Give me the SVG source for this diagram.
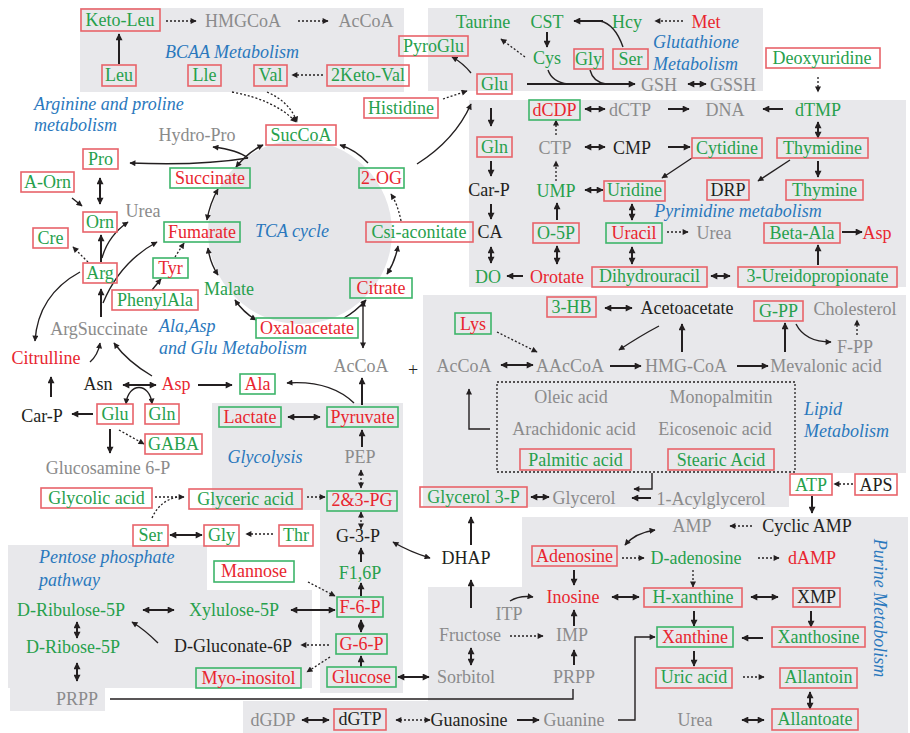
<svg xmlns="http://www.w3.org/2000/svg" width="910" height="733" viewBox="0 0 910 733">
<defs>
<marker id="ah" viewBox="0 0 10 10" refX="9" refY="5" markerWidth="8" markerHeight="7" markerUnits="userSpaceOnUse" orient="auto-start-reverse"><path d="M0,0 L10,5 L0,10 z" fill="#231f20"/></marker>
<marker id="ah2" viewBox="0 0 10 10" refX="9" refY="5" markerWidth="7" markerHeight="6" markerUnits="userSpaceOnUse" orient="auto-start-reverse"><path d="M0,0 L10,5 L0,10 z" fill="#231f20"/></marker>
<style>
text{font-family:"Liberation Serif","Times New Roman",serif;font-size:18px;text-anchor:middle}
.g{fill:#27a04c}.r{fill:#e8262f}.k{fill:#231f20}.y{fill:#8b8b8b}
.b{fill:#2a78bd;font-style:italic;text-anchor:start}.bc{text-anchor:middle}
.br{fill:none;stroke:#e8636a;stroke-width:1.6}.bg{fill:none;stroke:#3db56a;stroke-width:1.6}
.pn{fill:#e8e8eb}
.s,.sd,.t,.td,.d,.dd,.n,.nd{fill:none;stroke:#231f20}
.s{stroke-width:2;marker-end:url(#ah)}
.sd{stroke-width:2;marker-start:url(#ah);marker-end:url(#ah)}
.t{stroke-width:1.4;marker-end:url(#ah2)}
.td{stroke-width:1.4;marker-start:url(#ah2);marker-end:url(#ah2)}
.d{stroke-width:1.3;stroke-dasharray:2 2;marker-end:url(#ah2)}
.dd{stroke-width:1.3;stroke-dasharray:2 2;marker-start:url(#ah2);marker-end:url(#ah2)}
.n{stroke-width:1.4}
.nd{stroke-width:1.3;stroke-dasharray:2 2}
</style>
</defs>
<rect width="910" height="733" fill="#fff"/>
<g id="panels">
<rect class="pn" x="80" y="8" width="324" height="84"/>
<rect class="pn" x="428" y="8" width="335" height="83"/>
<rect class="pn" x="469" y="100" width="437" height="187"/>
<polygon class="pn" points="423,295 906,295 906,473 789,473 789,507 423,507"/>
<polygon class="pn" points="212,403 403,403 403,693 320,693 320,510 212,510"/>
<polygon class="pn" points="8,545 207,545 207,590 312,590 312,688 105,688 105,711 10,711 10,688 8,688"/>
<polygon class="pn" points="522,517 908,517 908,733 243,733 243,701 428,701 428,587 522,587"/>
<circle cx="300" cy="232" r="92" fill="#e6e6e9"/>
</g>
<g id="labels">
<text class="b bc" x="232" y="58">BCAA Metabolism</text>
<text class="b" x="34" y="110">Arginine and proline</text>
<text class="b" x="34" y="131">metabolism</text>
<text class="b bc" x="292" y="237">TCA cycle</text>
<text class="b" x="653" y="48">Glutathione</text>
<text class="b" x="653" y="70">Metabolism</text>
<text class="b bc" x="738" y="217">Pyrimidine metabolism</text>
<text class="b" x="159" y="332">Ala,Asp</text>
<text class="b" x="159" y="354">and Glu Metabolism</text>
<text class="b" x="804" y="415">Lipid</text>
<text class="b" x="804" y="437">Metabolism</text>
<text class="b bc" x="265" y="463">Glycolysis</text>
<text class="b" x="39" y="563">Pentose phosphate</text>
<text class="b" x="39" y="586">pathway</text>
<text class="b bc" transform="translate(874,608) rotate(90)">Purine Metabolism</text>
</g>
<g id="connectors">
<path class="s" d="M119 64V34"/>
<path class="d" d="M166 21H196"/>
<path class="d" d="M298 21H328"/>
<path class="d" d="M323 75H292"/>
<path class="d" d="M232 92Q275 100 296 122"/>
<path class="d" d="M267 92Q290 102 297 122"/>
<path class="td" d="M236 167Q248 152 263 145"/>
<path class="t" d="M248 158Q238 150 213 147"/>
<path class="t" d="M248 158Q200 166 130 163"/>
<path class="sd" d="M100 178V204"/>
<path class="t" d="M72 198L82 206"/>
<path class="s" d="M101 262V235"/>
<path class="t" d="M102 258Q108 236 128 222"/>
<path class="d" d="M88 262L73 247"/>
<path class="t" d="M80 272Q38 295 35 341"/>
<path class="s" d="M101 317V289"/>
<path class="t" d="M103 303Q120 262 157 242"/>
<path class="t" d="M90 362Q98 355 100 343"/>
<path class="t" d="M152 376Q128 362 114 343"/>
<path class="sd" d="M123 385H156"/>
<path class="s" d="M198 385H232"/>
<path class="t" d="M354 403Q330 380 287 383"/>
<path class="s" d="M51 397V377"/>
<path class="s" d="M93 414H72"/>
<path class="td" d="M126 404C128 382 150 382 152 404"/>
<path class="s" d="M110 429V453"/>
<path class="d" d="M119 430L144 444"/>
<path class="sd" d="M288 417H320"/>
<path class="s" d="M362 405V378"/>
<path class="s" d="M362 447V430"/>
<path class="dd" d="M361 470V488"/>
<path class="d" d="M307 497H325"/>
<path class="d" d="M155 497H184"/>
<path class="nd" d="M152 518Q160 500 178 497"/>
<path class="sd" d="M170 535H202"/>
<path class="d" d="M273 534H246"/>
<path class="dd" d="M361 512V529"/>
<path class="s" d="M361 562V548"/>
<path class="s" d="M361 596V583"/>
<path class="sd" d="M361 620V632"/>
<path class="s" d="M361 667V656"/>
<path class="d" d="M308 582L335 596"/>
<path class="sd" d="M291 610H335"/>
<path class="sd" d="M143 610H174"/>
<path class="sd" d="M77 622V638"/>
<path class="sd" d="M77 663V681"/>
<path class="t" d="M158 643Q145 630 132 622"/>
<path class="d" d="M329 645H301"/>
<path class="d" d="M330 657L307 672"/>
<path class="td" d="M393 542Q410 552 430 558"/>
<path class="s" d="M471 545V517"/>
<path class="s" d="M471 608V580"/>
<path class="sd" d="M398 677H429"/>
<path class="sd" d="M471 648V665"/>
<path class="d" d="M510 636H543"/>
<path class="t" d="M510 601Q520 595 533 597"/>
<path class="s" d="M574 626V610"/>
<path class="s" d="M574 665V650"/>
<path class="n" d="M110 699H573V689"/>
<path class="s" d="M574 570V585"/>
<path class="td" d="M625 545Q635 533 655 530"/>
<path class="d" d="M752 526H730"/>
<path class="s" d="M812 496V513"/>
<path class="d" d="M853 484H834"/>
<path class="d" d="M622 558H644"/>
<path class="d" d="M758 558H779"/>
<path class="d" d="M693 570V587"/>
<path class="sd" d="M612 597H639"/>
<path class="sd" d="M751 597H778"/>
<path class="s" d="M811 611V627"/>
<path class="s" d="M763 638H742"/>
<path class="s" d="M694 611V626"/>
<path class="s" d="M694 651V666"/>
<path class="d" d="M743 677H764"/>
<path class="sd" d="M810 692V709"/>
<path class="sd" d="M742 720H764"/>
<path class="t" d="M618 720H635V637H655"/>
<path class="sd" d="M302 720H329"/>
<path class="dd" d="M396 720H430"/>
<path class="s" d="M517 720H539"/>
<path class="sd" d="M531 497H549"/>
<path class="s" d="M651 498H632"/>
<path class="t" d="M652 473V489H634"/>
<path class="sd" d="M605 308H632"/>
<path class="d" d="M497 332L537 352"/>
<path class="sd" d="M501 365H533"/>
<path class="s" d="M610 366H641"/>
<path class="t" d="M659 326Q640 336 619 350"/>
<path class="s" d="M682 352V324"/>
<path class="s" d="M737 366H768"/>
<path class="s" d="M785 352V323"/>
<path class="t" d="M796 324Q805 342 831 342"/>
<path class="d" d="M857 335V320"/>
<rect class="nd" x="497" y="382" width="298" height="90"/>
<path class="t" d="M490 429H469V389"/>
<path class="t" d="M344 318Q355 312 366 300"/>
<path class="td" d="M363 301V348"/>
<path class="td" d="M387 274Q395 262 398 246"/>
<path class="d" d="M401 221Q398 205 391 194"/>
<path class="t" d="M368 163Q356 150 340 145"/>
<path class="t" d="M417 164Q455 140 471 104"/>
<path class="td" d="M207 220Q210 203 218 189"/>
<path class="td" d="M208 248Q210 263 218 275"/>
<path class="td" d="M235 300Q243 312 256 320"/>
<path class="d" d="M175 257L184 243"/>
<path class="t" d="M152 290L161 279"/>
<path class="d" d="M443 99L467 91"/>
<path class="t" d="M471 73Q463 63 452 57"/>
<path class="s" d="M491 108V126"/>
<path class="s" d="M491 161V176"/>
<path class="s" d="M491 204V219"/>
<path class="sd" d="M491 247V263"/>
<path class="s" d="M523 276H507"/>
<path class="sd" d="M557 246V264"/>
<path class="s" d="M557 220V203"/>
<path class="d" d="M556 181V161"/>
<path class="d" d="M556 135V120"/>
<path class="sd" d="M585 109H605"/>
<path class="s" d="M668 109H689"/>
<path class="s" d="M783 109H763"/>
<path class="d" d="M818 77V92"/>
<path class="sd" d="M818 122V138"/>
<path class="s" d="M818 161V177"/>
<path class="t" d="M790 160L758 181"/>
<path class="sd" d="M585 147H605"/>
<path class="s" d="M668 147H690"/>
<path class="t" d="M692 158L662 178"/>
<path class="sd" d="M585 190H603"/>
<path class="sd" d="M632 204V220"/>
<path class="d" d="M667 232H688"/>
<path class="sd" d="M632 247V264"/>
<path class="sd" d="M711 276H730"/>
<path class="s" d="M818 265V245"/>
<path class="s" d="M842 232H862"/>
<path class="s" d="M547 32V47"/>
<path class="n" d="M623 47Q615 24 600 21"/>
<path class="s" d="M603 21H574"/>
<path class="d" d="M683 21H655"/>
<path class="d" d="M525 57L501 39"/>
<path class="s" d="M527 84H635"/>
<path class="n" d="M548 70Q552 82 568 84"/>
<path class="n" d="M590 70Q593 82 606 84"/>
<path class="sd" d="M688 84H706"/>
</g>
<g id="n-ketoleu"><rect class="br" x="81" y="9" width="79" height="22"/><text class="g" x="120" y="26">Keto-Leu</text></g>
<g id="n-hmgcoa"><text class="y" x="243" y="27">HMGCoA</text></g>
<g id="n-accoa1"><text class="y" x="366" y="27">AcCoA</text></g>
<g id="n-leu"><rect class="br" x="102" y="65" width="34" height="21"/><text class="g" x="119" y="81">Leu</text></g>
<g id="n-lle"><rect class="br" x="188" y="65" width="33" height="21"/><text class="g" x="204.5" y="81">Lle</text></g>
<g id="n-val"><rect class="br" x="254" y="65" width="33" height="21"/><text class="g" x="270.5" y="81">Val</text></g>
<g id="n-ketoval"><rect class="br" x="327" y="65" width="82" height="21"/><text class="g" x="368" y="81">2Keto-Val</text></g>
<g id="n-hydropro"><text class="y" x="197" y="141">Hydro-Pro</text></g>
<g id="n-succoa"><rect class="br" x="266" y="125" width="70" height="20"/><text class="g" x="301" y="141">SucCoA</text></g>
<g id="n-pro"><rect class="br" x="83" y="149" width="35" height="20"/><text class="g" x="100.5" y="165">Pro</text></g>
<g id="n-aorn"><rect class="br" x="21" y="172" width="53" height="20"/><text class="g" x="47.5" y="188">A-Orn</text></g>
<g id="n-orn"><rect class="br" x="83" y="212" width="34" height="20"/><text class="g" x="100" y="228">Orn</text></g>
<g id="n-urea1"><text class="y" x="143" y="217">Urea</text></g>
<g id="n-succinate"><rect class="bg" x="170" y="168" width="80" height="20"/><text class="r" x="210" y="184">Succinate</text></g>
<g id="n-fumarate"><rect class="bg" x="164" y="222" width="76" height="20"/><text class="r" x="202" y="238">Fumarate</text></g>
<g id="n-cre"><rect class="br" x="33" y="228" width="35" height="20"/><text class="g" x="50.5" y="244">Cre</text></g>
<g id="n-arg"><rect class="br" x="83" y="263" width="34" height="20"/><text class="g" x="100" y="279">Arg</text></g>
<g id="n-tyr"><rect class="bg" x="153" y="258" width="35" height="20"/><text class="r" x="170.5" y="274">Tyr</text></g>
<g id="n-phenylala"><rect class="br" x="112" y="290" width="86" height="20"/><text class="g" x="155" y="306">PhenylAla</text></g>
<g id="n-malate"><text class="g" x="229" y="295">Malate</text></g>
<g id="n-oxaloacetate"><rect class="bg" x="256" y="318" width="102" height="20"/><text class="r" x="307" y="334">Oxaloacetate</text></g>
<g id="n-citrate"><rect class="bg" x="350" y="278" width="62" height="20"/><text class="r" x="381" y="294">Citrate</text></g>
<g id="n-csiaconitate"><rect class="br" x="366" y="222" width="107" height="20"/><text class="g" x="419" y="238">Csi-aconitate</text></g>
<g id="n-2og"><rect class="bg" x="359" y="168" width="45" height="20"/><text class="r" x="381.5" y="184">2-OG</text></g>
<g id="n-histidine"><rect class="br" x="364" y="98" width="74" height="20"/><text class="g" x="401" y="114">Histidine</text></g>
<g id="n-pyroglu"><rect class="br" x="399" y="36" width="69" height="20"/><text class="g" x="433.5" y="52">PyroGlu</text></g>
<g id="n-glu1"><rect class="br" x="477" y="74" width="35" height="20"/><text class="g" x="494.5" y="90">Glu</text></g>
<g id="n-taurine"><text class="g" x="483" y="28">Taurine</text></g>
<g id="n-cst"><text class="g" x="547" y="28">CST</text></g>
<g id="n-cys"><text class="g" x="547" y="64">Cys</text></g>
<g id="n-gly1"><rect class="br" x="574" y="49" width="29" height="20"/><text class="g" x="588.5" y="65">Gly</text></g>
<g id="n-ser1"><rect class="br" x="613" y="49" width="35" height="20"/><text class="g" x="630.5" y="65">Ser</text></g>
<g id="n-hcy"><text class="g" x="627" y="28">Hcy</text></g>
<g id="n-met"><text class="r" x="706" y="28">Met</text></g>
<g id="n-gsh"><text class="y" x="659" y="91">GSH</text></g>
<g id="n-gssh"><text class="y" x="733" y="91">GSSH</text></g>
<g id="n-dcdp"><rect class="bg" x="529" y="100" width="51" height="20"/><text class="r" x="554.5" y="116">dCDP</text></g>
<g id="n-dctp"><text class="y" x="630" y="116">dCTP</text></g>
<g id="n-dna"><text class="y" x="725" y="116">DNA</text></g>
<g id="n-dtmp"><text class="g" x="818" y="116">dTMP</text></g>
<g id="n-deoxyuridine"><rect class="br" x="766" y="48" width="114" height="20"/><text class="g" x="822" y="64">Deoxyuridine</text></g>
<g id="n-ctp"><text class="y" x="555" y="154">CTP</text></g>
<g id="n-cmp"><text class="k" x="632" y="154">CMP</text></g>
<g id="n-cytidine"><rect class="br" x="692" y="138" width="70" height="20"/><text class="g" x="727" y="154">Cytidine</text></g>
<g id="n-thymidine"><rect class="br" x="777" y="138" width="91" height="20"/><text class="g" x="822.5" y="154">Thymidine</text></g>
<g id="n-ump"><text class="g" x="556" y="197">UMP</text></g>
<g id="n-uridine"><rect class="br" x="604" y="181" width="61" height="20"/><text class="g" x="634.5" y="196">Uridine</text></g>
<g id="n-drp"><rect class="br" x="707" y="180" width="42" height="20"/><text class="k" x="728" y="196">DRP</text></g>
<g id="n-thymine"><rect class="br" x="786" y="180" width="77" height="20"/><text class="g" x="824.5" y="196">Thymine</text></g>
<g id="n-gln1"><rect class="br" x="477" y="137" width="35" height="20"/><text class="g" x="494.5" y="153">Gln</text></g>
<g id="n-carp1"><text class="k" x="489" y="196">Car-P</text></g>
<g id="n-ca"><text class="k" x="490" y="238">CA</text></g>
<g id="n-o5p"><rect class="br" x="533" y="223" width="46" height="20"/><text class="g" x="556" y="239">O-5P</text></g>
<g id="n-uracil"><rect class="bg" x="606" y="223" width="56" height="20"/><text class="r" x="634" y="239">Uracil</text></g>
<g id="n-urea2"><text class="y" x="714" y="239">Urea</text></g>
<g id="n-betaala"><rect class="br" x="764" y="223" width="76" height="20"/><text class="g" x="802" y="239">Beta-Ala</text></g>
<g id="n-asp2"><text class="r" x="877" y="239">Asp</text></g>
<g id="n-do"><text class="g" x="488" y="283">DO</text></g>
<g id="n-orotate"><text class="r" x="557" y="283">Orotate</text></g>
<g id="n-dihydrouracil"><rect class="br" x="592" y="267" width="115" height="20"/><text class="g" x="649.5" y="282">Dihydrouracil</text></g>
<g id="n-ureido"><rect class="br" x="738" y="267" width="159" height="20"/><text class="g" x="817.5" y="282">3-Ureidopropionate</text></g>
<g id="n-3hb"><rect class="br" x="547" y="297" width="49" height="20"/><text class="g" x="571.5" y="313">3-HB</text></g>
<g id="n-acetoacetate"><text class="k" x="687" y="314">Acetoacetate</text></g>
<g id="n-gpp"><rect class="br" x="754" y="301" width="49" height="20"/><text class="g" x="778.5" y="317">G-PP</text></g>
<g id="n-cholesterol"><text class="y" x="855" y="315">Cholesterol</text></g>
<g id="n-lys"><rect class="bg" x="455" y="313" width="36" height="21"/><text class="r" x="473" y="330">Lys</text></g>
<g id="n-fpp"><text class="y" x="855" y="353">F-PP</text></g>
<g id="n-accoa3"><text class="y" x="464" y="372">AcCoA</text></g>
<g id="n-aaccoa"><text class="y" x="570" y="372">AAcCoA</text></g>
<g id="n-hmgcoa2"><text class="y" x="686" y="372">HMG-CoA</text></g>
<g id="n-mevalonic"><text class="y" x="826" y="372">Mevalonic acid</text></g>
<g id="n-plus"><text class="k" x="413" y="376">+</text></g>
<g id="n-oleic"><text class="y" x="571" y="403">Oleic acid</text></g>
<g id="n-monopalmitin"><text class="y" x="721" y="403">Monopalmitin</text></g>
<g id="n-arachidonic"><text class="y" x="574" y="435">Arachidonic acid</text></g>
<g id="n-eicosenoic"><text class="y" x="715" y="435">Eicosenoic acid</text></g>
<g id="n-palmitic"><rect class="br" x="520" y="449" width="111" height="21"/><text class="g" x="575.5" y="466">Palmitic acid</text></g>
<g id="n-stearic"><rect class="br" x="668" y="449" width="106" height="21"/><text class="g" x="721" y="466">Stearic Acid</text></g>
<g id="n-glycerol3p"><rect class="br" x="420" y="487" width="107" height="20"/><text class="g" x="473.5" y="503">Glycerol 3-P</text></g>
<g id="n-glycerol"><text class="y" x="584" y="504">Glycerol</text></g>
<g id="n-acylglycerol"><text class="y" x="711" y="505">1-Acylglycerol</text></g>
<g id="n-accoa2"><text class="y" x="361" y="372">AcCoA</text></g>
<g id="n-ala"><rect class="bg" x="240" y="374" width="35" height="20"/><text class="r" x="257.5" y="390">Ala</text></g>
<g id="n-asn"><text class="k" x="98" y="390">Asn</text></g>
<g id="n-asp1"><text class="r" x="176" y="390">Asp</text></g>
<g id="n-citrulline"><text class="r" x="46" y="364">Citrulline</text></g>
<g id="n-argsuccinate"><text class="y" x="99" y="335">ArgSuccinate</text></g>
<g id="n-carp2"><text class="k" x="42" y="422">Car-P</text></g>
<g id="n-glu2"><rect class="br" x="97" y="404" width="36" height="20"/><text class="g" x="115" y="420">Glu</text></g>
<g id="n-gln2"><rect class="br" x="145" y="404" width="34" height="20"/><text class="g" x="162" y="420">Gln</text></g>
<g id="n-gaba"><rect class="br" x="145" y="434" width="57" height="20"/><text class="g" x="173.5" y="450">GABA</text></g>
<g id="n-glucosamine"><text class="y" x="108" y="474">Glucosamine 6-P</text></g>
<g id="n-lactate"><rect class="bg" x="219" y="407" width="62" height="20"/><text class="r" x="250" y="423">Lactate</text></g>
<g id="n-pyruvate"><rect class="bg" x="327" y="407" width="71" height="20"/><text class="r" x="362.5" y="423">Pyruvate</text></g>
<g id="n-pep"><text class="y" x="360" y="463">PEP</text></g>
<g id="n-23pg"><rect class="bg" x="327" y="491" width="70" height="20"/><text class="r" x="362" y="506">2&amp;3-PG</text></g>
<g id="n-glycericacid"><rect class="br" x="189" y="489" width="113" height="20"/><text class="g" x="245.5" y="505">Glyceric acid</text></g>
<g id="n-glycolicacid"><rect class="br" x="41" y="488" width="111" height="20"/><text class="g" x="96.5" y="504">Glycolic acid</text></g>
<g id="n-ser2"><rect class="br" x="133" y="525" width="35" height="21"/><text class="g" x="150.5" y="541">Ser</text></g>
<g id="n-gly2"><rect class="br" x="204" y="525" width="35" height="21"/><text class="g" x="221.5" y="541">Gly</text></g>
<g id="n-thr"><rect class="br" x="279" y="525" width="34" height="21"/><text class="g" x="296" y="541">Thr</text></g>
<g id="n-g3p"><text class="k" x="358" y="542">G-3-P</text></g>
<g id="n-dhap"><text class="k" x="466" y="564">DHAP</text></g>
<g id="n-mannose"><rect class="bg" x="214" y="561" width="80" height="21"/><text class="r" x="254" y="577">Mannose</text></g>
<g id="n-f16p"><text class="g" x="360" y="579">F1,6P</text></g>
<g id="n-dribulose"><text class="g" x="71" y="616">D-Ribulose-5P</text></g>
<g id="n-xylulose"><text class="g" x="234" y="616">Xylulose-5P</text></g>
<g id="n-f6p"><rect class="bg" x="337" y="597" width="46" height="20"/><text class="r" x="360" y="613">F-6-P</text></g>
<g id="n-dribose"><text class="g" x="73" y="653">D-Ribose-5P</text></g>
<g id="n-dgluconate"><text class="k" x="233" y="652">D-Gluconate-6P</text></g>
<g id="n-g6p"><rect class="bg" x="336" y="634" width="51" height="20"/><text class="r" x="361.5" y="650">G-6-P</text></g>
<g id="n-myoinositol"><rect class="bg" x="196" y="668" width="105" height="20"/><text class="r" x="248.5" y="684">Myo-inositol</text></g>
<g id="n-glucose"><rect class="bg" x="327" y="667" width="69" height="20"/><text class="r" x="361.5" y="683">Glucose</text></g>
<g id="n-prpp1"><text class="y" x="77" y="705">PRPP</text></g>
<g id="n-sorbitol"><text class="y" x="466" y="683">Sorbitol</text></g>
<g id="n-fructose"><text class="y" x="470" y="641">Fructose</text></g>
<g id="n-itp"><text class="y" x="509" y="620">ITP</text></g>
<g id="n-imp"><text class="y" x="572" y="641">IMP</text></g>
<g id="n-prpp2"><text class="y" x="574" y="683">PRPP</text></g>
<g id="n-inosine"><text class="r" x="573" y="603">Inosine</text></g>
<g id="n-adenosine"><rect class="br" x="532" y="546" width="85" height="20"/><text class="r" x="574.5" y="562">Adenosine</text></g>
<g id="n-amp"><text class="y" x="692" y="532">AMP</text></g>
<g id="n-cyclicamp"><text class="k" x="807" y="532">Cyclic AMP</text></g>
<g id="n-atp"><rect class="br" x="790" y="474" width="42" height="21"/><text class="g" x="811" y="491">ATP</text></g>
<g id="n-aps"><rect class="br" x="855" y="474" width="42" height="21"/><text class="k" x="876" y="491">APS</text></g>
<g id="n-dadenosine"><text class="g" x="696" y="564">D-adenosine</text></g>
<g id="n-damp"><text class="r" x="812" y="564">dAMP</text></g>
<g id="n-hxanthine"><rect class="br" x="644" y="588" width="98" height="19"/><text class="g" x="693" y="603">H-xanthine</text></g>
<g id="n-xmp"><rect class="br" x="793" y="588" width="47" height="19"/><text class="k" x="816.5" y="603">XMP</text></g>
<g id="n-xanthine"><rect class="bg" x="657" y="627" width="76" height="20"/><text class="r" x="695" y="643">Xanthine</text></g>
<g id="n-xanthosine"><rect class="br" x="772" y="627" width="93" height="20"/><text class="g" x="818.5" y="643">Xanthosine</text></g>
<g id="n-uricacid"><rect class="br" x="656" y="668" width="76" height="20"/><text class="g" x="694" y="683">Uric acid</text></g>
<g id="n-allantoin"><rect class="br" x="780" y="668" width="77" height="20"/><text class="g" x="818.5" y="683">Allantoin</text></g>
<g id="n-urea3"><text class="y" x="695" y="726">Urea</text></g>
<g id="n-allantoate"><rect class="br" x="772" y="709" width="86" height="21"/><text class="g" x="815" y="725">Allantoate</text></g>
<g id="n-dgdp"><text class="y" x="273" y="726">dGDP</text></g>
<g id="n-dgtp"><rect class="br" x="334" y="709" width="52" height="21"/><text class="k" x="360" y="725">dGTP</text></g>
<g id="n-guanosine"><text class="k" x="469" y="726">Guanosine</text></g>
<g id="n-guanine"><text class="y" x="574" y="726">Guanine</text></g>
</svg>
